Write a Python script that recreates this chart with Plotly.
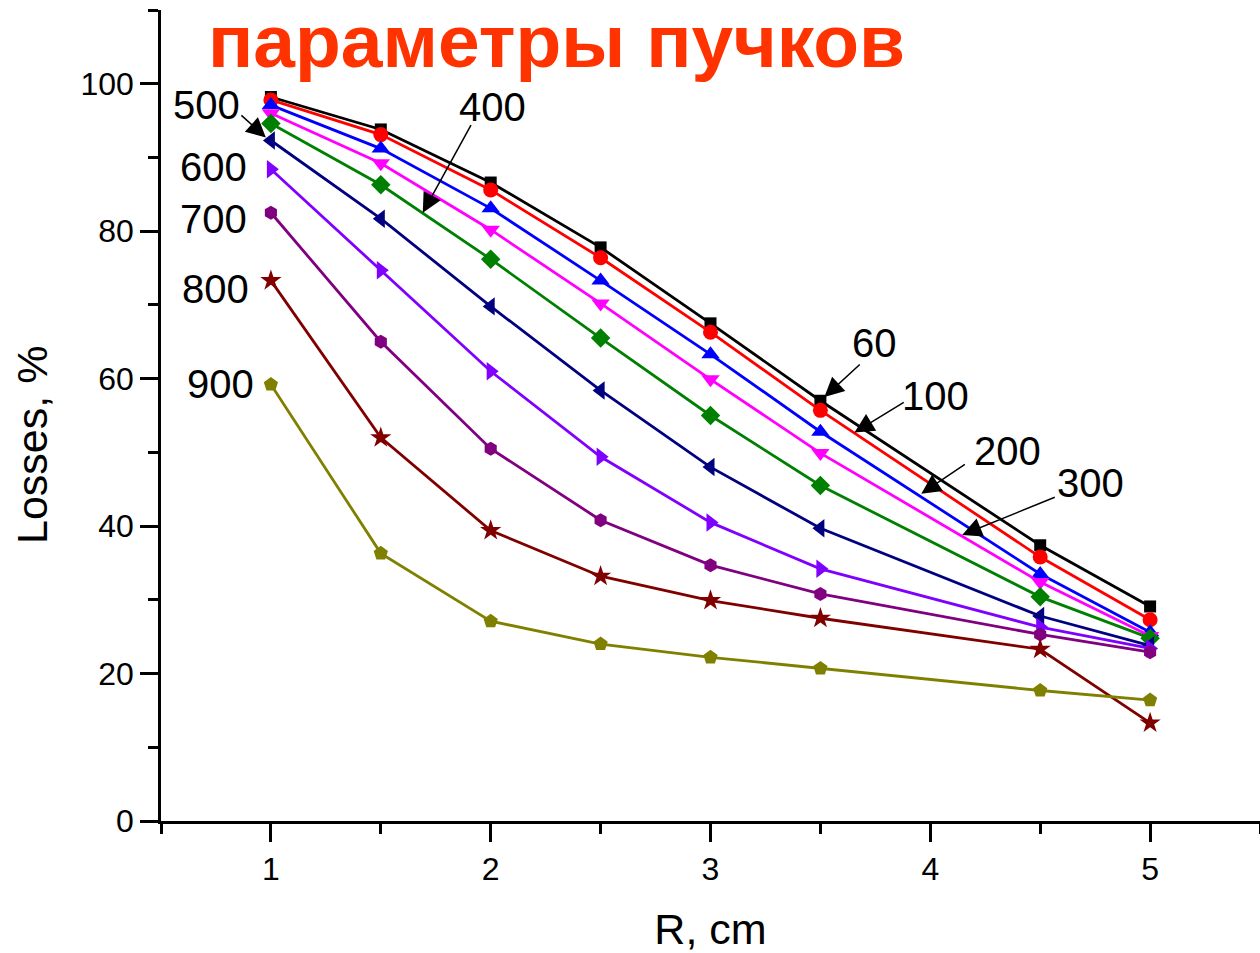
import plotly.graph_objects as go

# Beam-radius sweep: losses (%) versus R (cm) for several beam parameter values
r_cm = [1, 1.5, 2, 2.5, 3, 3.5, 4.5, 5]

labels = ["60", "100", "200", "300", "400", "500", "600", "700", "800", "900"]

loss_60 = [98.2, 93.8, 86.6, 77.8, 67.5, 57.0, 37.4, 29.1]
loss_100 = [97.8, 93.1, 85.6, 76.4, 66.3, 55.7, 35.8, 27.3]
loss_200 = [97.1, 91.2, 83.1, 73.3, 63.3, 52.8, 33.5, 25.6]
loss_300 = [96.0, 89.2, 80.2, 70.2, 59.9, 49.9, 32.4, 25.1]
loss_400 = [94.6, 86.3, 76.2, 65.5, 55.0, 45.5, 30.4, 24.8]
loss_500 = [92.3, 81.7, 69.8, 58.4, 48.0, 39.7, 27.8, 23.8]
loss_600 = [88.4, 74.7, 61.0, 49.4, 40.5, 34.2, 26.3, 23.4]
loss_700 = [82.5, 65.0, 50.5, 40.8, 34.7, 30.8, 25.3, 22.9]
loss_800 = [73.3, 52.0, 39.4, 33.2, 29.9, 27.5, 23.3, 13.3]
loss_900 = [59.2, 36.3, 27.1, 24.0, 22.2, 20.7, 17.7, 16.4]

series = [loss_60, loss_100, loss_200, loss_300, loss_400,
          loss_500, loss_600, loss_700, loss_800, loss_900]

colors = ["#000000", "#FF0000", "#0000FF", "#FF00FF", "#008000",
          "#000080", "#8000FF", "#800080", "#800000", "#808000"]
symbols = ["square", "circle", "triangle-up", "triangle-down", "diamond",
           "triangle-left", "triangle-right", "hexagon", "star", "pentagon"]
sizes = [12, 15, 16, 16, 15, 16, 16, 14, 16, 15]

FONT = "Arial, 'Liberation Sans', sans-serif"

fig = go.Figure()
for name, vals, c, s, sz in zip(labels, series, colors, symbols, sizes):
    fig.add_trace(go.Scatter(
        x=r_cm, y=vals, name=name, mode="lines+markers",
        line=dict(color=c, width=2.8),
        marker=dict(symbol=s, size=sz, color=c, line=dict(width=0)),
    ))

# Curve labels placed beside the curves (text only)
plain_labels = [
    ("600", 0.74, 88.7),
    ("700", 0.74, 81.6),
    ("800", 0.75, 72.1),
    ("900", 0.77, 59.3),
]
for txt, x, y in plain_labels:
    fig.add_annotation(x=x, y=y, text=txt, showarrow=False,
                       font=dict(family=FONT, size=40, color="black"))

# Curve labels with leader arrows: (text, text_x, text_y, tail_x, tail_y, head_x, head_y)
arrow_labels = [
    ("500", 0.706, 97.1, 0.859, 95.9, 0.977, 92.7),
    ("400", 2.01, 96.8, 1.914, 94.6, 1.691, 82.5),
    ("60", 3.745, 64.8, 3.686, 62.1, 3.518, 57.5),
    ("100", 4.023, 57.7, 3.886, 56.9, 3.655, 52.7),
    ("200", 4.35, 50.2, 4.164, 48.5, 3.959, 44.4),
    ("300", 4.727, 45.9, 4.573, 44.0, 4.145, 38.8),
]
for txt, tx, ty, ax_, ay_, hx, hy in arrow_labels:
    fig.add_annotation(x=tx, y=ty, text=txt, showarrow=False,
                       font=dict(family=FONT, size=40, color="black"))
    fig.add_annotation(x=hx, y=hy, ax=ax_, ay=ay_, axref="x", ayref="y",
                       text="", showarrow=True, arrowhead=2, arrowsize=2.6,
                       arrowwidth=1.5, arrowcolor="black", standoff=0)

# Heading
fig.add_annotation(xref="paper", yref="paper", x=0.360, y=0.962,
                   text="<b>параметры пучков</b>", showarrow=False,
                   xanchor="center", yanchor="middle",
                   font=dict(family=FONT, size=75, color="#FF3300"))

# Vertical axis title
fig.add_annotation(xref="paper", yref="paper", x=-0.1174, y=0.4636,
                   text="Losses, %", showarrow=False, textangle=-90,
                   xanchor="center", yanchor="middle",
                   font=dict(family=FONT, size=43, color="black"))

axis_common = dict(
    showline=True, linecolor="black", linewidth=2.5,
    ticks="outside", ticklen=18, tickwidth=2.5, tickcolor="black",
    showgrid=False, zeroline=False,
    tickfont=dict(family=FONT, size=32, color="black"),
)

fig.update_xaxes(
    range=[0.5, 5.5], tickvals=[1, 2, 3, 4, 5],
    minor=dict(ticks="outside", dtick=0.5, tick0=0.5, ticklen=10,
               tickwidth=2.5, tickcolor="black"),
    title=dict(text="R, cm", font=dict(family=FONT, size=43, color="black"),
               standoff=30),
    **axis_common,
)
fig.update_yaxes(
    range=[0, 110], tickvals=[0, 20, 40, 60, 80, 100],
    minor=dict(ticks="outside", dtick=10, tick0=0, ticklen=10,
               tickwidth=2.5, tickcolor="black"),
    **axis_common,
)

fig.update_layout(
    width=1260, height=953,
    margin=dict(l=161, r=0, t=10, b=132),
    paper_bgcolor="white", plot_bgcolor="white",
    showlegend=False,
)

fig.write_html("out.html")
